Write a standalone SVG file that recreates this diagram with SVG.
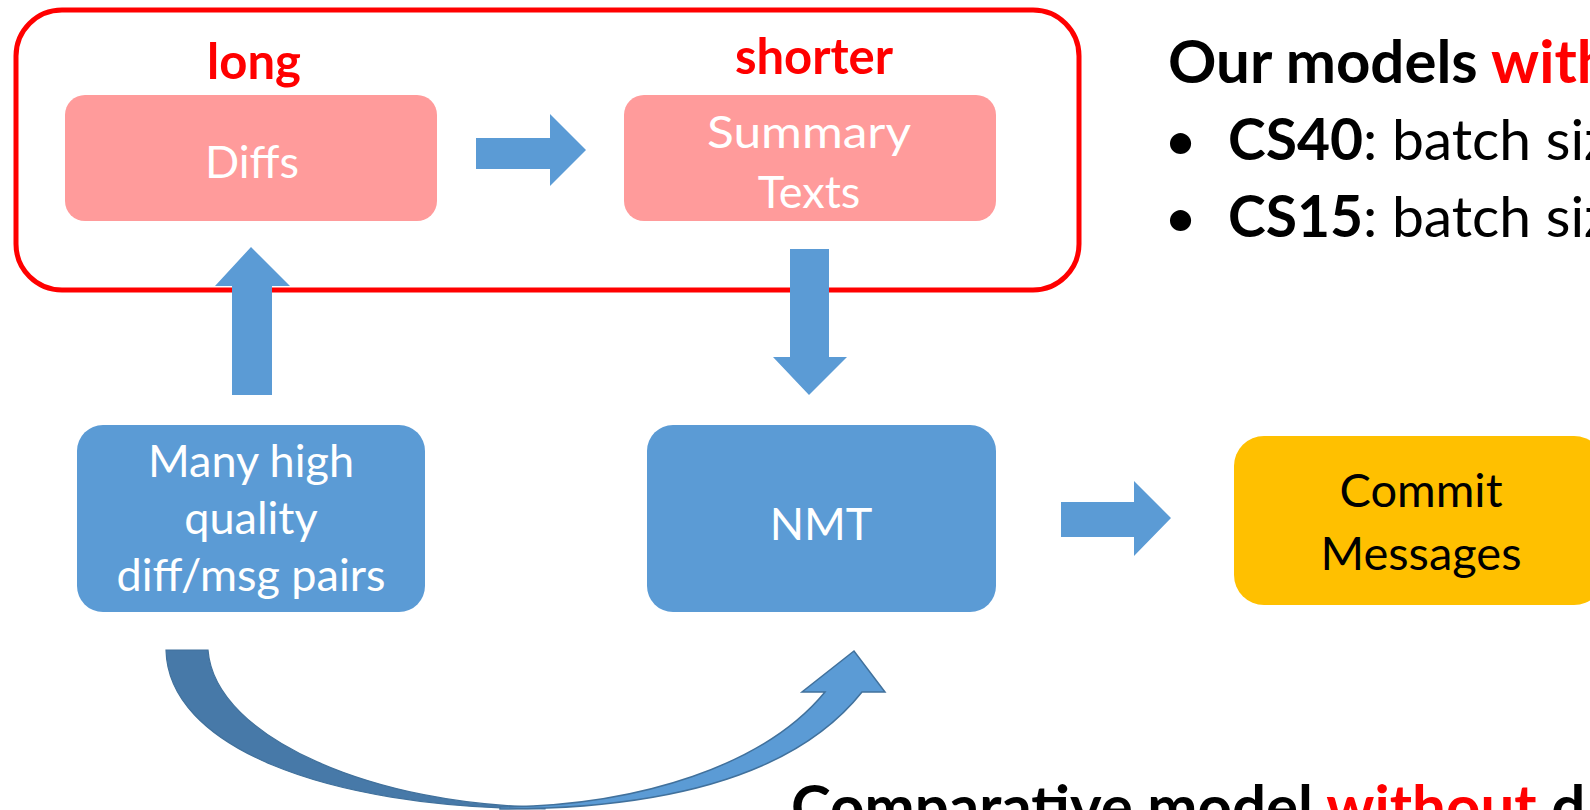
<svg xmlns="http://www.w3.org/2000/svg" width="1590" height="810" viewBox="0 0 1590 810">
<defs>
<style>
text{font-family:Lato,"Open Sans","Liberation Sans",sans-serif}
.w{fill:#fff;font-size:45px;text-anchor:middle}
.k{fill:#000;font-size:47px;text-anchor:middle}
.lbl{fill:#f00;font-size:49px;font-weight:bold;text-anchor:middle}
.big{font-size:60px;fill:#000}
.mid{font-size:57px;fill:#000}
.b{font-weight:bold}
.red{fill:#f00}
.arr{fill:#5B9BD5}
</style>
</defs>
<rect x="16" y="10" width="1063" height="280" rx="46" fill="#fff" stroke="#f00" stroke-width="5"/>
<g id="label-long"><text class="lbl" x="254" y="79">long</text></g>
<g id="label-shorter"><text class="lbl" x="814" y="74">shorter</text></g>
<g id="diffs"><rect x="65" y="95" width="372" height="126" rx="20" fill="#FF9B9B"/><text class="w" x="252" y="178">Diffs</text></g>
<g id="summary"><rect x="624" y="95" width="372" height="126" rx="20" fill="#FF9B9B"/><text class="w" x="809" y="148" textLength="204" lengthAdjust="spacingAndGlyphs">Summary</text><text class="w" x="809" y="208">Texts</text></g>
<g id="pairs"><rect x="77" y="425" width="348" height="187" rx="26" fill="#5B9BD5"/><text class="w" x="251" y="477">Many high</text><text class="w" x="251" y="534">quality</text><text class="w" x="251" y="591">diff/msg pairs</text></g>
<g id="nmt"><rect x="647" y="425" width="349" height="187" rx="26" fill="#5B9BD5"/><text class="w" x="821" y="540">NMT</text></g>
<g id="commit"><rect x="1234" y="436" width="370" height="169" rx="30" fill="#FFC000"/><text class="k" x="1421" y="507">Commit</text><text class="k" x="1421" y="570">Messages</text></g>
<g id="connectors">
<polygon class="arr" points="476,138 550,138 550,114 586,150 550,186 550,169 476,169"/>
<polygon class="arr" points="232,395 232,286 215,286 251,247 290,286 272,286 272,395"/>
<polygon class="arr" points="790,249 829,249 829,357 847,357 809,395 773,357 790,357"/>
<polygon class="arr" points="1061,502 1134,502 1134,481 1171,518 1134,556 1134,537 1061,537"/>
<path d="M166,650 C168,745 320,808 545,809 L545,807 C380,806 215,740 208,650 Z" fill="#4779A8" stroke="#41719C" stroke-width="1.2"/>
<path d="M500,809 C680,809 800,770 862,692 L885,692 L854,651 L802,692 L825,692 C765,765 640,806 500,807 Z" fill="#5B9BD5" stroke="#41719C" stroke-width="1.5"/>
</g>
<g id="note-top">
<text class="big" x="1168" y="83"><tspan class="b">Our models </tspan><tspan class="b red">with</tspan></text>
<text class="mid" x="1164" y="160">•</text><text class="mid" x="1228" y="160"><tspan class="b">CS40</tspan>: batch size</text>
<text class="mid" x="1164" y="237">•</text><text class="mid" x="1228" y="237"><tspan class="b">CS15</tspan>: batch size</text>
</g>
<g id="note-bottom"><text class="big" x="791" y="828"><tspan class="b">Comparative model </tspan><tspan class="b red">without</tspan><tspan class="b"> d</tspan></text></g>
</svg>
